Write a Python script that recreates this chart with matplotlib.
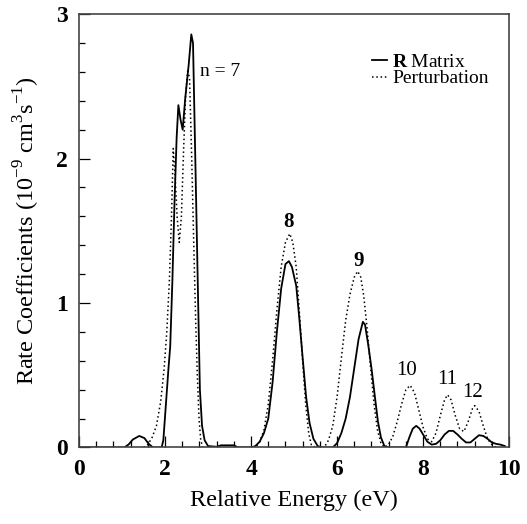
import matplotlib.pyplot as plt
from matplotlib.ticker import MultipleLocator

# R-matrix curve (solid)
rm_energy = [0.0, 1.05, 1.15, 1.25, 1.4, 1.52, 1.62, 1.72, 1.92, 1.96, 2.02, 2.08, 2.12, 2.17,
             2.22, 2.27, 2.31, 2.36, 2.41, 2.47, 2.55, 2.61, 2.65, 2.69, 2.72, 2.77, 2.81,
             2.86, 2.92, 3.0, 3.2, 3.3, 3.6, 3.7, 4.0, 4.1, 4.2, 4.3, 4.4, 4.5, 4.6, 4.7,
             4.8, 4.88, 4.95, 5.05, 5.12, 5.2, 5.28, 5.36, 5.45, 5.55, 5.65, 5.9, 6.0, 6.1,
             6.2, 6.3, 6.4, 6.5, 6.6, 6.65, 6.72, 6.8, 6.88, 6.95, 7.02, 7.1, 7.2, 7.6,
             7.68, 7.76, 7.84, 7.92, 8.0, 8.1, 8.2, 8.3, 8.4, 8.5, 8.6, 8.7, 8.8, 8.9, 9.0,
             9.1, 9.2, 9.3, 9.4, 9.5, 9.6, 9.7, 9.8, 9.9]
rm_rate = [0.0, 0.0, 0.02, 0.055, 0.08, 0.065, 0.025, 0.0, 0.0, 0.05, 0.3, 0.55, 0.7, 1.15,
           1.7, 2.15, 2.37, 2.27, 2.2, 2.42, 2.65, 2.86, 2.8, 2.2, 1.75, 1.0, 0.4,
           0.15, 0.05, 0.01, 0.005, 0.015, 0.015, 0.0, 0.0, 0.01, 0.04, 0.1, 0.2, 0.45, 0.8, 1.1,
           1.27, 1.29, 1.25, 1.12, 0.9, 0.62, 0.35, 0.17, 0.06, 0.01, 0.0, 0.0, 0.03, 0.1,
           0.2, 0.35, 0.55, 0.75, 0.87, 0.85, 0.72, 0.55, 0.35, 0.18, 0.07, 0.01, 0.0, 0.0,
           0.07, 0.13, 0.15, 0.13, 0.09, 0.04, 0.02, 0.025, 0.05, 0.09, 0.115, 0.115, 0.09, 0.06, 0.035,
           0.035, 0.06, 0.085, 0.08, 0.06, 0.035, 0.025, 0.02, 0.01]

# perturbation curve (dotted)
pt_energy = [1.5, 1.6, 1.7, 1.8, 1.9, 1.98, 2.04, 2.1, 2.15, 2.19, 2.23, 2.28, 2.33, 2.38,
             2.43, 2.48, 2.53, 2.57, 2.62, 2.66, 2.71, 2.75, 2.79, 2.83, 2.88, 4.1, 4.2,
             4.3, 4.4, 4.5, 4.6, 4.7, 4.8, 4.9, 4.97, 5.05, 5.12, 5.2, 5.27, 5.34, 5.4, 5.5,
             5.7, 5.8, 5.9, 6.0, 6.1, 6.2, 6.3, 6.4, 6.48, 6.55, 6.62, 6.7, 6.78, 6.86, 6.94,
             7.02, 7.1, 7.2, 7.3, 7.4, 7.5, 7.6, 7.7, 7.8, 7.9, 8.0, 8.1, 8.2, 8.3, 8.4, 8.5,
             8.57, 8.65, 8.75, 8.85, 8.95, 9.05, 9.15, 9.2, 9.3, 9.4, 9.5, 9.6, 9.7]
pt_rate = [0.0, 0.02, 0.07, 0.15, 0.32, 0.55, 0.8, 1.15, 1.6, 2.07, 1.9, 1.6, 1.42, 1.6,
           2.05, 2.45, 2.62, 2.55, 2.0, 1.5, 0.9, 0.5, 0.2, 0.05, 0.0, 0.0, 0.04,
           0.12, 0.3, 0.6, 0.95, 1.25, 1.42, 1.48, 1.42, 1.25, 0.95, 0.6, 0.3, 0.1, 0.02, 0.0,
           0.0, 0.05, 0.15, 0.35, 0.62, 0.88, 1.06, 1.18, 1.22, 1.18, 1.05, 0.82, 0.55, 0.3, 0.12,
           0.03, 0.0, 0.02, 0.08, 0.18, 0.3, 0.4, 0.43, 0.38, 0.26, 0.14, 0.06, 0.04, 0.1, 0.22, 0.33,
           0.365, 0.33, 0.22, 0.13, 0.11, 0.18, 0.27, 0.29, 0.25, 0.15, 0.06, 0.02, 0.0]

peak_labels = ['n = 7', '8', '9', '10', '11', '12']
label_x = [3.28, 4.88, 6.51, 7.62, 8.55, 9.16]
label_y = [2.60, 1.56, 1.29, 0.53, 0.47, 0.38]
label_bold = [False, True, True, False, False, False]

plt.rcParams['font.family'] = ['Liberation Serif', 'DejaVu Serif']
plt.rcParams['mathtext.fontset'] = 'custom'
plt.rcParams['mathtext.rm'] = 'Liberation Serif'
plt.rcParams['mathtext.bf'] = 'Liberation Serif:bold'

fig = plt.figure(figsize=(5.27, 5.24), dpi=100)
ax = fig.add_axes([0.150, 0.146, 0.816, 0.827])

ax.plot(rm_energy, rm_rate, color='black', lw=1.3, label=r'$\mathbf{R}$ Matrix')
ax.plot(pt_energy, pt_rate, color='black', lw=1.1, ls=(0, (1, 1.8)), label='Perturbation')

for txt, x, y, b in zip(peak_labels, label_x, label_y, label_bold):
    ax.text(x, y, txt, ha='center', va='center', fontsize=14 if txt.startswith('n') else 15,
            fontweight='bold' if b else 'normal')

ax.set_xlim(0, 10)
ax.set_ylim(0, 3)
ax.xaxis.set_major_locator(MultipleLocator(2))
ax.xaxis.set_minor_locator(MultipleLocator(0.4))
ax.yaxis.set_major_locator(MultipleLocator(1))
ax.yaxis.set_minor_locator(MultipleLocator(0.2))
ax.tick_params(which='both', direction='in', top=False, right=False, width=0.9)
ax.tick_params(which='major', length=8, labelsize=17, pad=8)
ax.tick_params(which='minor', length=4)
for lab in ax.get_xticklabels() + ax.get_yticklabels():
    lab.set_fontweight('bold')
for s in ax.spines.values():
    s.set_linewidth(1.2)
    s.set_color('#444444')

ax.set_xlabel('Relative Energy (eV)', fontsize=17.5, labelpad=7)
ax.set_ylabel(r'Rate Coefficients (10$^{-9}$ cm$^{3}$s$^{-1}$)', fontsize=17.5, labelpad=10)

ax.legend(loc='upper left', bbox_to_anchor=(0.681, 0.91), frameon=False, fontsize=14,
          handlelength=0.8, handletextpad=0.25, labelspacing=-0.05, borderpad=0,
          borderaxespad=0)

fig.savefig('out.png', dpi=100)
